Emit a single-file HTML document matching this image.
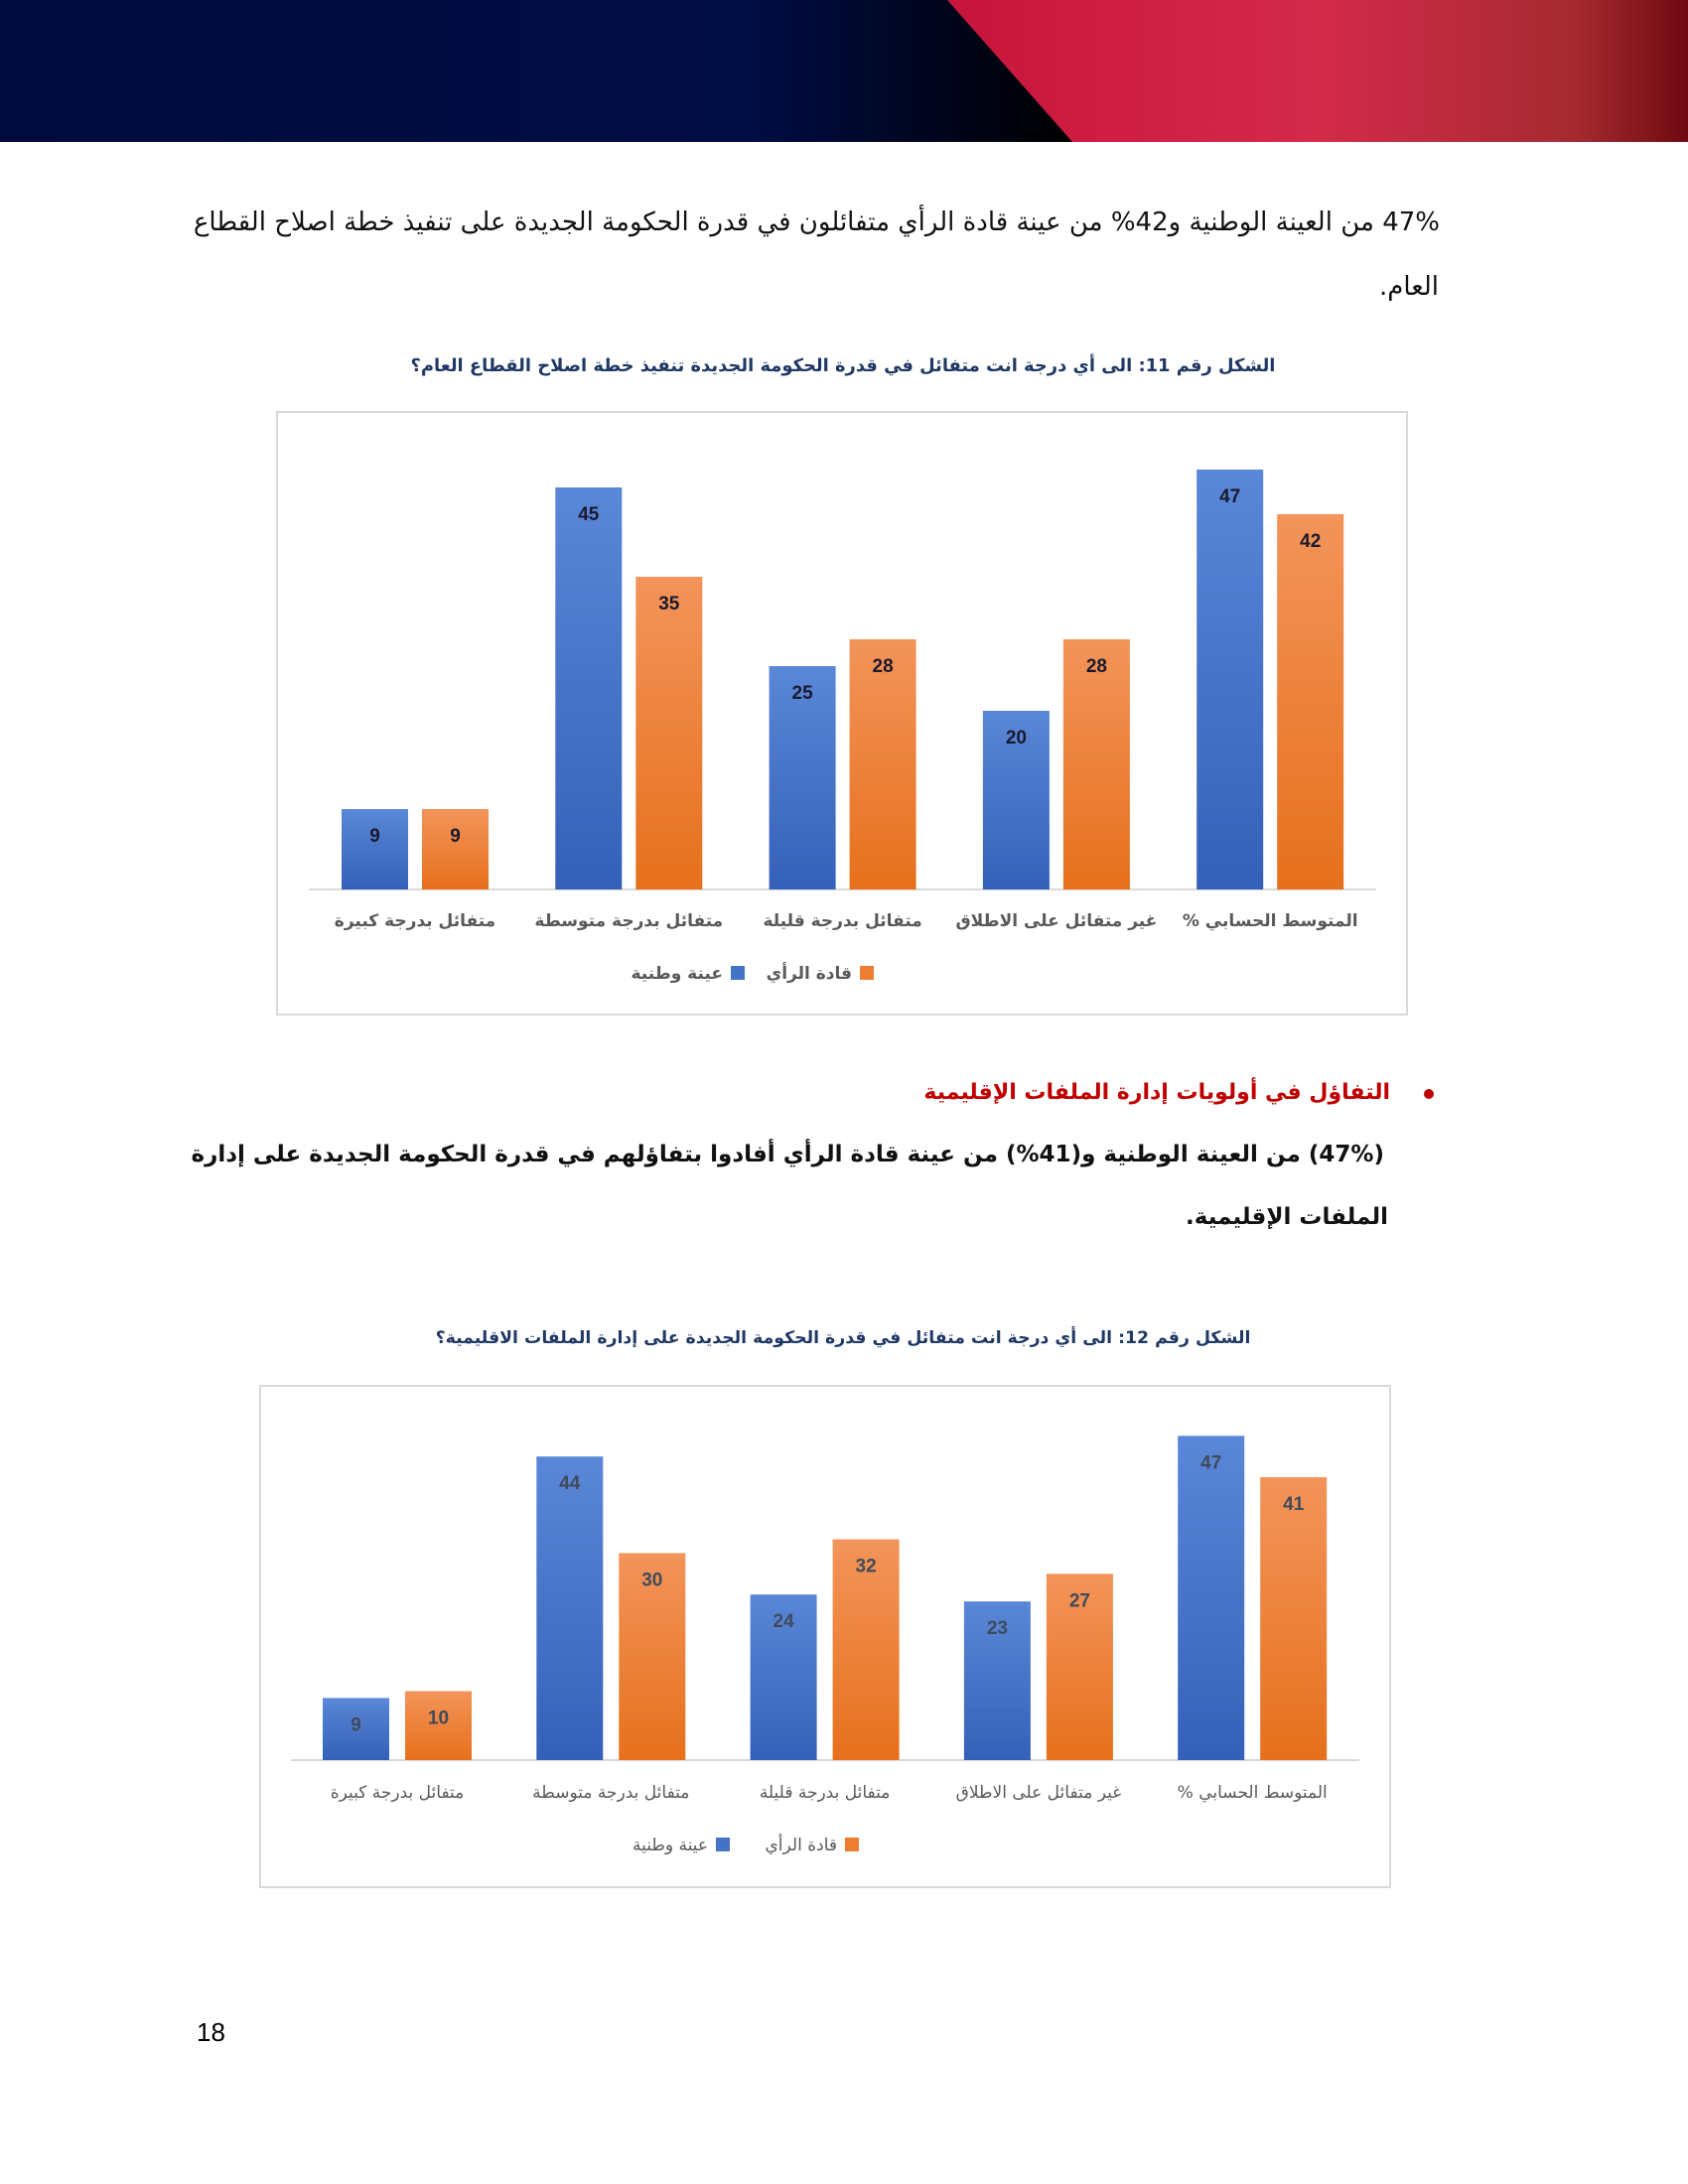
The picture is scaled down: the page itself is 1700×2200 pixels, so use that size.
<!DOCTYPE html>
<html><head><meta charset="utf-8">
<style>
html,body{margin:0;padding:0;background:#fff;}
body{width:1700px;height:2200px;position:relative;overflow:hidden;font-family:"DejaVu Sans","Liberation Sans",sans-serif;}
.hdr{position:absolute;left:0;top:0;width:1700px;height:143px;background:#000a3c;overflow:hidden;}
.p{position:absolute;direction:rtl;text-align:right;color:#111;white-space:nowrap;}
svg{position:absolute;left:0;top:0;}
</style></head><body>
<div class="hdr">
<svg width="1700" height="143" style="position:absolute;left:0;top:0">
<defs><linearGradient id="rg" x1="0" x2="1" y1="0" y2="0">
<stop offset="0" stop-color="#c8143c"/><stop offset="0.5" stop-color="#d42a4a"/><stop offset="0.85" stop-color="#a52a30"/><stop offset="1" stop-color="#6e0a10"/></linearGradient>
<linearGradient id="bg" x1="0" x2="1"><stop offset="0" stop-color="#000a3c"/><stop offset="0.7" stop-color="#000c44"/><stop offset="1" stop-color="#000"/></linearGradient></defs>
<rect x="0" y="0" width="1080" height="143" fill="url(#bg)"/>
<polygon points="954,0 1700,0 1700,143 1080,143" fill="url(#rg)"/>
</svg></div>

<div class="p" style="right:250px;top:209px;font-size:26px;">47% من العينة الوطنية و42% من عينة قادة الرأي متفائلون في قدرة الحكومة الجديدة على تنفيذ خطة اصلاح القطاع</div>
<div class="p" style="right:251px;top:274px;font-size:26px;">العام.</div>

<div class="p" style="right:300px;top:1088px;font-size:22px;font-weight:bold;color:#c00000;">التفاؤل في أولويات إدارة الملفات الإقليمية</div>
<div style="position:absolute;left:1434px;top:1097px;width:10px;height:10px;border-radius:50%;background:#c00000"></div>
<div class="p" style="right:306px;top:1150px;font-size:23px;font-weight:bold;">(47%) من العينة الوطنية و(41%) من عينة قادة الرأي أفادوا بتفاؤلهم في قدرة الحكومة الجديدة على إدارة</div>
<div class="p" style="right:302px;top:1213px;font-size:23px;font-weight:bold;">الملفات الإقليمية.</div>

<div style="position:absolute;left:198px;top:2032px;font-size:26px;font-family:'Liberation Sans',sans-serif;">18</div>

<svg id="ch" width="1700" height="2200" style="top:0"></svg>
<script>
var s=document.getElementById('ch'),h='';
h+='<defs><linearGradient id="gb" x1="0" y1="0" x2="0" y2="1"><stop offset="0" stop-color="#5b87d8"/><stop offset="1" stop-color="#3460b8"/></linearGradient><linearGradient id="go" x1="0" y1="0" x2="0" y2="1"><stop offset="0" stop-color="#f3945a"/><stop offset="1" stop-color="#e6701c"/></linearGradient></defs>';
var cats=['متفائل بدرجة كبيرة','متفائل بدرجة متوسطة','متفائل بدرجة قليلة','غير متفائل على الاطلاق','المتوسط الحسابي %'];
function chart(o){
 h+='<rect x="'+o.bx+'" y="'+o.by+'" width="'+o.bw+'" height="'+o.bh+'" fill="#fff" stroke="#d9d9d9" stroke-width="2"/>';
 h+='<text x="'+o.tx+'" y="'+o.ty+'" font-size="'+o.tf+'" font-weight="bold" fill="#1f3864" text-anchor="middle" direction="rtl" font-family="DejaVu Sans">'+o.title+'</text>';
 h+='<line x1="'+o.ax1+'" x2="'+o.ax2+'" y1="'+o.base+'" y2="'+o.base+'" stroke="#d9d9d9" stroke-width="2"/>';
 for(var i=0;i<5;i++){
  var d=i*215.3;
  [[o.b,o.xb,'url(#gb)'],[o.o,o.xo,'url(#go)']].forEach(function(a){
   var v=a[0][i],x=a[1]+d,t=o.base-v*o.u;
   h+='<rect x="'+x+'" y="'+t+'" width="67" height="'+(o.base-t)+'" fill="'+a[2]+'"/>';
   h+='<text x="'+(x+33.5)+'" y="'+(t+33)+'" font-size="19" font-weight="bold" fill="'+o.lc+'" text-anchor="middle" font-family="Liberation Sans">'+v+'</text>';
  });
  h+='<text x="'+(o.cx+d)+'" y="'+o.cy+'" font-size="17" fill="#595959" text-anchor="middle" direction="rtl" font-family="DejaVu Sans"'+(o.cb?' font-weight="bold"':'')+'>'+cats[i]+'</text>';
 }
 h+='<rect x="'+o.lx+'" y="'+(o.ly-13)+'" width="14" height="14" fill="#4472c4"/>';
 h+='<text x="'+(o.lx-8)+'" y="'+o.ly+'" font-size="17" fill="#595959" text-anchor="end" font-family="DejaVu Sans"'+(o.cb?' font-weight="bold"':'')+'>عينة وطنية</text>';
 h+='<rect x="'+(o.lx+130)+'" y="'+(o.ly-13)+'" width="14" height="14" fill="#ed7d31"/>';
 h+='<text x="'+(o.lx+122)+'" y="'+o.ly+'" font-size="17" fill="#595959" text-anchor="end" font-family="DejaVu Sans"'+(o.cb?' font-weight="bold"':'')+'>قادة الرأي</text>';
}
chart({bx:279,by:415,bw:1138,bh:607,tx:849,ty:374,tf:17.9,title:'الشكل رقم 11: الى أي درجة انت متفائل في قدرة الحكومة الجديدة تنفيذ خطة اصلاح القطاع العام؟',
 ax1:311,ax2:1386,base:896,xb:344,xo:425,u:9.0,b:[9,45,25,20,47],o:[9,35,28,28,42],lc:'#1a1a2e',cx:418,cy:933,lx:736,ly:986,cb:true});
chart({bx:262,by:1396,bw:1138,bh:505,tx:849,ty:1353,tf:17.3,title:'الشكل رقم 12: الى أي درجة انت متفائل في قدرة الحكومة الجديدة على إدارة الملفات الاقليمية؟',
 ax1:293,ax2:1369,base:1773,xb:325,xo:408,u:6.95,b:[9,44,24,23,47],o:[10,30,32,27,41],lc:'#404b5a',cx:400,cy:1811,lx:721,ly:1864,cb:false});
s.innerHTML=h;
</script>
</body></html>
